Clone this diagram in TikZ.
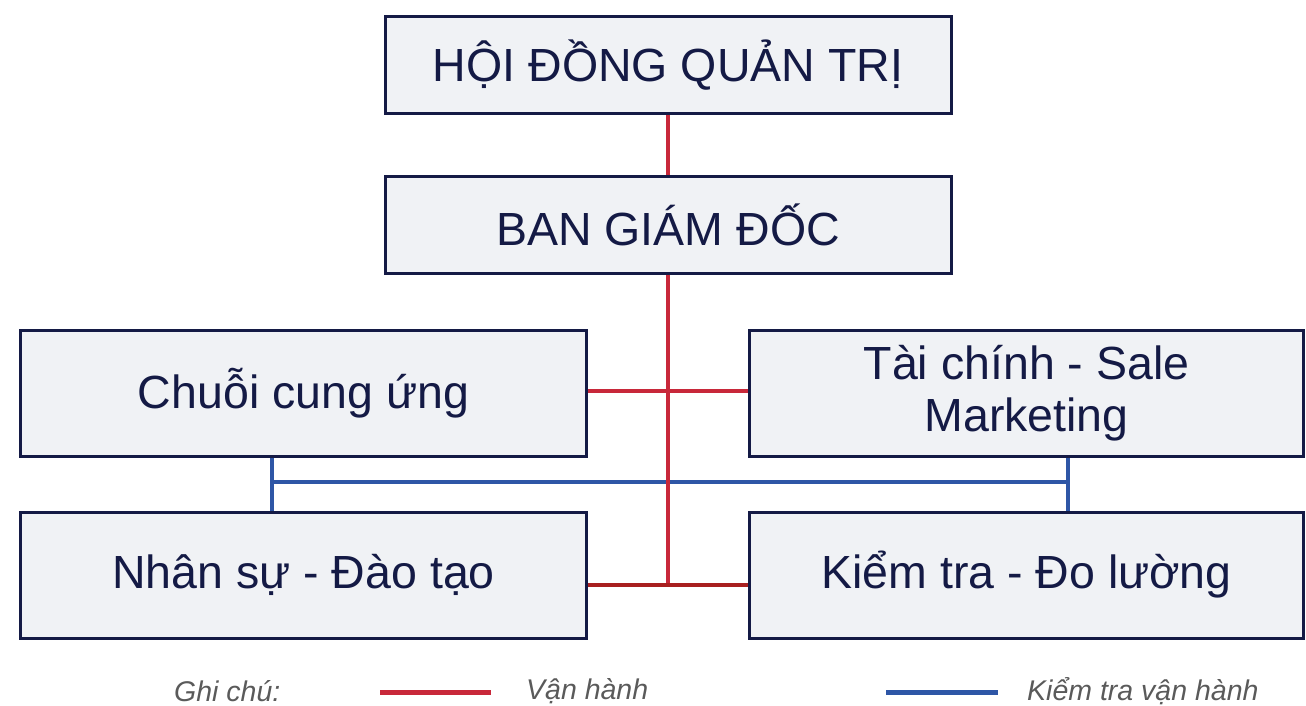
\documentclass[tikz,border=0pt]{standalone}
\usepackage{fontspec}
\setmainfont{Liberation Sans}
\usetikzlibrary{positioning}
\definecolor{navy}{HTML}{141A45}
\definecolor{boxfill}{HTML}{F0F2F5}
\definecolor{opred}{HTML}{C8283A}
\definecolor{opreddk}{HTML}{A82020}
\definecolor{ckblue}{HTML}{2E56A6}
\definecolor{notegray}{HTML}{5A5A5A}
\tikzset{
    mybox/.style = {rectangle, line width=3pt, draw=navy, fill=boxfill, align=center, text=navy, inner sep=0pt, font=\fontsize{46.5}{52}\selectfont},
    myboxt/.style = {mybox, minimum width=566pt, minimum height=97pt},
    myboxl/.style = {mybox, minimum width=566pt, minimum height=126pt},
    myboxr/.style = {mybox, minimum width=554pt, minimum height=126pt},
    edger/.style = {-, line width=4pt, opred},
    edgerd/.style = {-, line width=4pt, opreddk},
    edgeb/.style = {-, line width=4pt, ckblue},
    mynote/.style = {anchor=west, inner sep=0pt, text=notegray, font=\fontsize{28.5}{30}\selectfont\itshape}
}

\begin{document}
\begin{tikzpicture}[x=1pt,y=-1pt]
\useasboundingbox (0,0) rectangle (1306,706);
\node[myboxt] at (668, 65) (htq) {HỘI ĐỒNG QUẢN TRỊ};
\node[myboxt] at (668, 224.5) (bgd) {BAN GIÁM ĐỐC};
\node[myboxl] at (303.5, 393.5) (ccu) {Chuỗi cung ứng};
\node[myboxr] at (1026.5, 393.5) (tcs) {Tài chính - Sale\\Marketing};
\node[myboxl] at (303.5, 575) (nsdt) {Nhân sự - Đào tạo};
\node[myboxr] at (1026.5, 575) (ktdl) {Kiểm tra - Đo lường};
\coordinate (jr) at (668, 391);
\coordinate (jd) at (668, 585);
\coordinate (bl) at (272, 482);
\coordinate (br) at (1068, 482);
%
\draw[edgeb] (ccu.south -| bl) -- (nsdt.north -| bl);
\draw[edgeb] (tcs.south -| br) -- (ktdl.north -| br);
\draw[edgeb] (bl) -- (br);
\draw[edger] (htq.south) -- (bgd.north);
\draw[edger] (bgd.south) -- (jd);
\draw[edger] (ccu.east |- jr) -- (tcs.west |- jr);
\draw[edgerd] (nsdt.east |- jd) -- (ktdl.west |- jd);
% legend
\node[mynote] at (174, 691) (note) {Ghi chú:};
\coordinate (lr1) at (380, 692);
\coordinate (lr2) at (491, 692);
\draw[edger, line width=5pt] (lr1) -- (lr2);
\node[mynote] at (526, 691) (notr) {Vận hành};
\coordinate (lb1) at (886, 692);
\coordinate (lb2) at (998, 692);
\draw[edgeb, line width=5pt] (lb1) -- (lb2);
\node[mynote] at (1027, 691) (notb) {Kiểm tra vận hành};

\end{tikzpicture}
\end{document}
